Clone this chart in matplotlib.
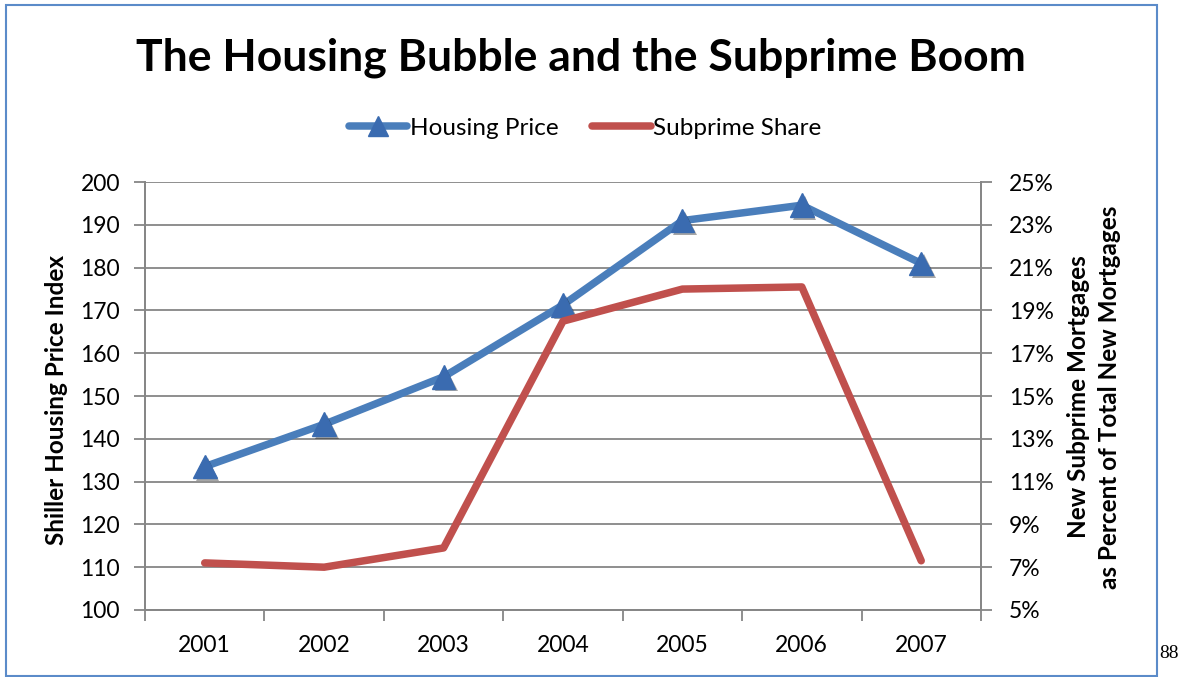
import numpy as np
import matplotlib
matplotlib.use("Agg")
import matplotlib.pyplot as plt
import matplotlib.patheffects as pe
from matplotlib.patches import Rectangle

years = ["2001", "2002", "2003", "2004", "2005", "2006", "2007"]
housing_price = [133.5, 143.4, 154.5, 171.3, 191.0, 194.6, 181.0]
subprime_share = [7.2, 7.0, 7.9, 18.5, 20.0, 20.1, 7.3]
left_ticks = [100, 110, 120, 130, 140, 150, 160, 170, 180, 190, 200]
right_ticks = [5, 7, 9, 11, 13, 15, 17, 19, 21, 23, 25]

plt.rcParams['font.family'] = ['Lato', 'DejaVu Sans']

blue = "#4A7EBB"
blue_dark = "#3A6BB0"
red = "#C0504D"
grid_c = "#868686"

fig = plt.figure(figsize=(11.79, 6.77), dpi=100)
ax = fig.add_axes([0.123, 0.099, 0.709, 0.632])
ax2 = ax.twinx()

x = np.arange(1, len(years) + 1)

# housing line + markers with shadow
ax.plot(x, housing_price, color=blue, lw=5.4, solid_capstyle="round",
        solid_joinstyle="round", zorder=3)
ax.plot(x, housing_price, ls="none", marker="^", ms=17, color=blue_dark,
        mec=blue_dark, zorder=4,
        path_effects=[pe.SimplePatchShadow(offset=(2, -2), shadow_rgbFace="black", alpha=0.35),
                      pe.Normal()])

ax2.plot(x, subprime_share, color=red, lw=5.4, solid_capstyle="round",
         solid_joinstyle="round", zorder=3)

ax.set_xlim(0.5, len(years) + 0.5)
ax.set_ylim(100, 200)
ax2.set_ylim(5, 25)

ax.set_yticks(left_ticks)
ax.set_yticklabels([str(v) for v in left_ticks])
ax2.set_yticks(right_ticks)
ax2.set_yticklabels([f"{v}%" for v in right_ticks])

ax.set_xticks(np.arange(0.5, len(years) + 1, 1))
ax.set_xticklabels([])
ax.set_xticks(x, minor=True)
ax.set_xticklabels(years, minor=True)
ax.tick_params(axis="x", which="minor", length=0, pad=18, labelsize=16.5)
ax.tick_params(axis="x", which="major", length=8, width=1.3, color=grid_c, direction="out")
ax.tick_params(axis="y", length=8, width=1.3, color=grid_c, pad=10, labelsize=16.5)
ax2.tick_params(axis="y", length=8, width=1.3, color=grid_c, pad=12, labelsize=16.5)

ax.yaxis.grid(True, color=grid_c, lw=1.3)
ax.set_axisbelow(True)

for a in (ax, ax2):
    a.spines["top"].set_visible(False)
    for s in ("left", "right", "bottom"):
        a.spines[s].set_color(grid_c)
        a.spines[s].set_linewidth(1.3)

fig.text(0.493, 1 - 58 / 677, "The Housing Bubble and the Subprime Boom",
         ha="center", va="center", fontsize=32, fontweight="bold")

fig.text(57 / 1179, 1 - 400 / 677, "Shiller Housing Price Index", rotation=90,
         ha="center", va="center", fontsize=17.5, fontweight="bold")
fig.text(1094 / 1179, 1 - 397 / 677,
         "New Subprime Mortgages\nas Percent of Total New Mortgages", rotation=90,
         ha="center", va="center", fontsize=17.5, fontweight="bold", linespacing=1.4)

h1, = ax.plot([], [], color=blue, lw=5.4, marker="^", ms=15, mfc=blue_dark, mec=blue_dark,
              solid_capstyle="round")
h2, = ax.plot([], [], color=red, lw=5.4, solid_capstyle="round")
fig.legend([h1, h2], ["Housing Price", "Subprime Share"], loc="center",
           bbox_to_anchor=(585 / 1179, 1 - 128 / 677), ncol=2, frameon=False,
           fontsize=17.5, handlelength=2.4, handletextpad=0.1, columnspacing=1.4)

fig.patches.append(Rectangle((6 / 1179, 1 / 677), (1157 - 6) / 1179, (672 - 1) / 677,
                             transform=fig.transFigure, fill=False, edgecolor="#5B8BC9",
                             lw=1.5))
fig.text(1159 / 1179, 1 - 654 / 677, "88", family="Liberation Serif", fontsize=14,
         ha="left", va="center")

fig.savefig("out.png", dpi=100)
